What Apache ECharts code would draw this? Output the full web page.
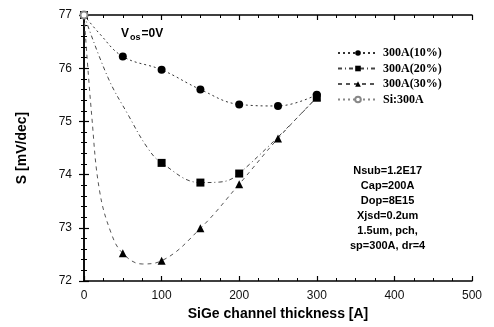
<!DOCTYPE html>
<html><head><meta charset="utf-8">
<script src="https://cdn.jsdelivr.net/npm/echarts@6/dist/echarts.min.js"></script>
<style>html,body{margin:0;padding:0;background:#fff}#c{width:494px;height:327px}</style>
</head><body><div id="c"></div>
<script>
// Measured points (markers)
const x10 = [0, 50, 100, 150, 200, 250, 300];
const y10 = [77, 76.22, 75.97, 75.6, 75.32, 75.29, 75.5];
const x20 = [0, 100, 150, 200, 300];
const y20 = [77, 74.22, 73.85, 74.02, 75.45];
const x30 = [0, 50, 100, 150, 200, 250, 300];
const y30 = [77, 72.52, 72.38, 72.99, 73.82, 74.68, 75.45];
const xSi = [0];
const ySi = [77];
// Fitted curves
const cx10 = [0, 20, 50, 100, 150, 200, 250, 300];
const cy10 = [77, 76.65, 76.22, 75.97, 75.6, 75.32, 75.29, 75.5];
const cx20 = [0, 31, 57, 82, 100, 150, 175, 200, 300];
const cy20 = [77, 75.82, 75.12, 74.5, 74.22, 73.85, 73.86, 74.02, 75.45];
const cx30 = [0, 10, 20, 35, 50, 75, 100, 150, 200, 250, 300];
const cy30 = [77, 75.1, 73.7, 72.9, 72.52, 72.32, 72.38, 72.99, 73.82, 74.68, 75.45];

const names = ['300A(10%)', '300A(20%)', '300A(30%)', 'Si:300A'];
const xTicks = [0, 100, 200, 300, 400, 500];
const yTicks = [72, 73, 74, 75, 76, 77];

function merged(cx, cy, mx, my, sym) {
  const pts = [];
  cx.forEach((x, i) => pts.push({ value: [x, cy[i]], symbol: 'none' }));
  mx.forEach((x, i) => pts.push({ value: [x, my[i]], symbol: sym, marker: true }));
  pts.sort((a, b) => a.value[0] - b.value[0] || (a.marker ? 1 : -1));
  const out = [];
  pts.forEach(p => {
    const last = out[out.length - 1];
    if (last && last.value[0] === p.value[0]) {
      if (p.marker) out[out.length - 1] = p;
    } else out.push(p);
  });
  return out;
}

const chart = echarts.init(document.getElementById('c'));
const axisCommon = {
  axisLine: { show: true, lineStyle: { color: '#000', width: 1.5 } },
  axisTick: { show: true, inside: true, length: 5, lineStyle: { color: '#000', width: 1.2 } },
  minorTick: { show: true, splitNumber: 2, length: 3, lineStyle: { color: '#000', width: 1 } },
  splitLine: { show: false }
};
chart.setOption({
  animation: false,
  backgroundColor: '#fff',
  grid: { left: 84, right: 22, top: 15, bottom: 46 },
  xAxis: [
    Object.assign({}, axisCommon, {
      type: 'value', min: 0, max: 500, interval: 100,
      name: 'SiGe channel thickness [A]', nameLocation: 'middle', nameGap: 26,
      nameTextStyle: { fontFamily: 'Liberation Sans', fontWeight: 'bold', fontSize: 14, color: '#000' },
      axisLabel: { fontFamily: 'Liberation Sans', fontSize: 12, color: '#111', margin: 9,
        formatter: v => xTicks.includes(v) ? String(v) : '' },
      minorTick: { show: true, splitNumber: 4, length: 3, lineStyle: { color: '#000', width: 1 } }
    }),
    Object.assign({}, axisCommon, {
      type: 'value', min: 0, max: 500, interval: 100, position: 'top',
      axisLabel: { show: false },
      minorTick: { show: true, splitNumber: 4, length: 3, lineStyle: { color: '#000', width: 1 } }
    })
  ],
  yAxis: [
    Object.assign({}, axisCommon, {
      type: 'value', min: 72, max: 77, interval: 1,
      name: 'S [mV/dec]', nameLocation: 'middle', nameGap: 55, nameRotate: 90,
      nameTextStyle: { fontFamily: 'Liberation Sans', fontWeight: 'bold', fontSize: 14, color: '#000' },
      axisLabel: { fontFamily: 'Liberation Sans', fontSize: 12, color: '#111', margin: 12,
        formatter: v => yTicks.includes(v) ? String(v) : '' },
      minorTick: { show: true, splitNumber: 5, length: 3, lineStyle: { color: '#000', width: 1 } }
    }),
    Object.assign({}, axisCommon, {
      type: 'value', min: 72, max: 77, interval: 1, position: 'right',
      axisLabel: { show: false },
      minorTick: { show: true, splitNumber: 5, length: 3, lineStyle: { color: '#000', width: 1 } }
    })
  ],
  legend: {
    orient: 'vertical', left: 332, top: 42, itemGap: 3.5, itemWidth: 40, itemHeight: 7,
    data: names,
    textStyle: { fontFamily: 'Liberation Serif', fontWeight: 'bold', fontSize: 12, color: '#000' }
  },
  series: [
    { name: names[0], type: 'line', data: merged(cx10, cy10, x10, y10, 'circle'), smooth: 0.4,
      symbol: 'circle', symbolSize: 8, showAllSymbol: true,
      itemStyle: { color: '#000' }, lineStyle: { color: '#333', width: 1, type: [2, 3] } },
    { name: names[1], type: 'line', data: merged(cx20, cy20, x20, y20, 'rect'), smooth: 0.4,
      symbol: 'rect', symbolSize: 8, showAllSymbol: true,
      itemStyle: { color: '#000' }, lineStyle: { color: '#444', width: 1, type: [4, 3, 1, 3] } },
    { name: names[2], type: 'line', data: merged(cx30, cy30, x30, y30, 'triangle'), smooth: 0.4,
      symbol: 'triangle', symbolSize: 8, showAllSymbol: true,
      itemStyle: { color: '#000' }, lineStyle: { color: '#555', width: 1, type: [4, 4] } },
    { name: names[3], type: 'line', data: xSi.map((x, i) => [x, ySi[i]]),
      symbol: 'emptyCircle', symbolSize: 7,
      itemStyle: { color: '#888', borderColor: '#888' }, lineStyle: { color: '#888', width: 1, type: [2, 3] } }
  ],
  graphic: [
    { type: 'text', left: 121, top: 28,
      style: { text: '{v|V}{s|os}{v|=0V}', rich: {
        v: { fontFamily: 'Liberation Sans', fontWeight: 'bold', fontSize: 12, fill: '#000' },
        s: { fontFamily: 'Liberation Sans', fontWeight: 'bold', fontSize: 9, fill: '#000', verticalAlign: 'bottom', padding: [8, 1, 0, 1] } } } },
    { type: 'text', left: 350, top: 163,
      style: { text: 'Nsub=1.2E17\nCap=200A\nDop=8E15\nXjsd=0.2um\n1.5um, pch,\nsp=300A, dr=4',
        align: 'center', textAlign: 'center', x: 50, lineHeight: 15,
        fontFamily: 'Liberation Sans', fontWeight: 'bold', fontSize: 11, fill: '#000' } }
  ]
});
</script></body></html>
